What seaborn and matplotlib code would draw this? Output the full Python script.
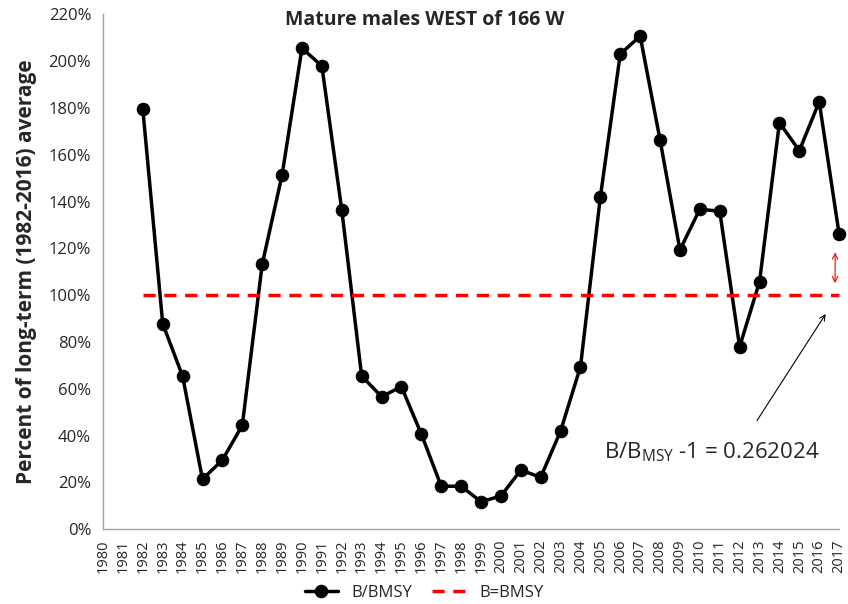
import numpy as np
import pandas as pd
import matplotlib
matplotlib.use('Agg')
import matplotlib.pyplot as plt
import seaborn as sns

years = list(range(1982, 2018))
b_bmsy = [179.5, 87.9, 65.4, 21.4, 29.6, 44.4, 113.2, 151.4, 205.6, 198.0,
          136.5, 65.5, 56.7, 60.9, 40.7, 18.4, 18.4, 11.8, 14.2, 25.3,
          22.2, 42.0, 69.5, 142.1, 203.1, 210.8, 166.4, 119.4, 136.8, 135.9,
          78.0, 105.8, 173.8, 161.8, 182.7, 126.2]
bmsy_line = [100.0] * len(years)
tick_years = list(range(1980, 2018))
y_ticks = list(range(0, 221, 20))

sns.set_style('white')
plt.rcParams['font.family'] = ['Open Sans', 'DejaVu Sans']
plt.rcParams['mathtext.fontset'] = 'custom'
plt.rcParams['mathtext.rm'] = 'Open Sans'

df = pd.DataFrame({'year': years, 'B/BMSY': b_bmsy, 'B=BMSY': bmsy_line})

fig = plt.figure(figsize=(8.48, 6.04), dpi=100)
ax = fig.add_axes([0.1215, 0.1237, 0.868, 0.8523])

sns.lineplot(data=df, x='year', y='B/BMSY', ax=ax, color='black', lw=2.5,
             marker='o', markersize=9, markeredgecolor='black', label='B/BMSY')
sns.lineplot(data=df, x='year', y='B=BMSY', ax=ax, color='#ff0000', lw=2.5,
             label='B=BMSY')
ax.lines[-1].set_linestyle((0, (3.5, 2.5)))
for ln in ax.lines:
    ln.set_clip_on(False)

ax.set_xlim(1980, 2017)
ax.set_ylim(0, 220)
ax.set_xticks(tick_years)
ax.set_xticklabels([str(y) for y in tick_years], rotation=90, fontsize=10.5)
ax.set_yticks(y_ticks)
ax.set_yticklabels([f'{v}%' for v in y_ticks], fontsize=12)
ax.tick_params(axis='both', direction='out', length=5, color='#a0a0a0', width=1)
ax.tick_params(axis='x', pad=2)

for s in ['top', 'right']:
    ax.spines[s].set_visible(False)
for s in ['left', 'bottom']:
    ax.spines[s].set_color('#a0a0a0')
    ax.spines[s].set_linewidth(1)

ax.set_xlabel('')
ax.set_ylabel('Percent of long-term (1982-2016) average', fontsize=15,
              fontweight='bold', labelpad=8)
fig.text(425 / 848, 1 - 20 / 604, 'Mature males WEST of 166 W', fontsize=14,
         fontweight='bold', ha='center', va='center')

# annotation
ax.annotate('', xy=(2016.4, 93), xytext=(2012.8, 45.5),
            arrowprops=dict(arrowstyle='->', color='black', lw=0.8))
ax.annotate('', xy=(2016.8, 104), xytext=(2016.8, 119.5),
            arrowprops=dict(arrowstyle='<->', color='#ff0000', lw=0.8))
ax.text(2005.2, 33, r'B/B$_{\mathrm{MSY}}$ -1 = 0.262024', fontsize=16,
        va='center', ha='left')

ax.legend_.remove()
handles, labels = ax.get_legend_handles_labels()
fig.legend(handles, labels, loc='lower center', ncol=2, frameon=False,
           fontsize=12, bbox_to_anchor=(0.5, -0.02), handlelength=2,
           columnspacing=1.2)

fig.savefig('out.png', dpi=100)
